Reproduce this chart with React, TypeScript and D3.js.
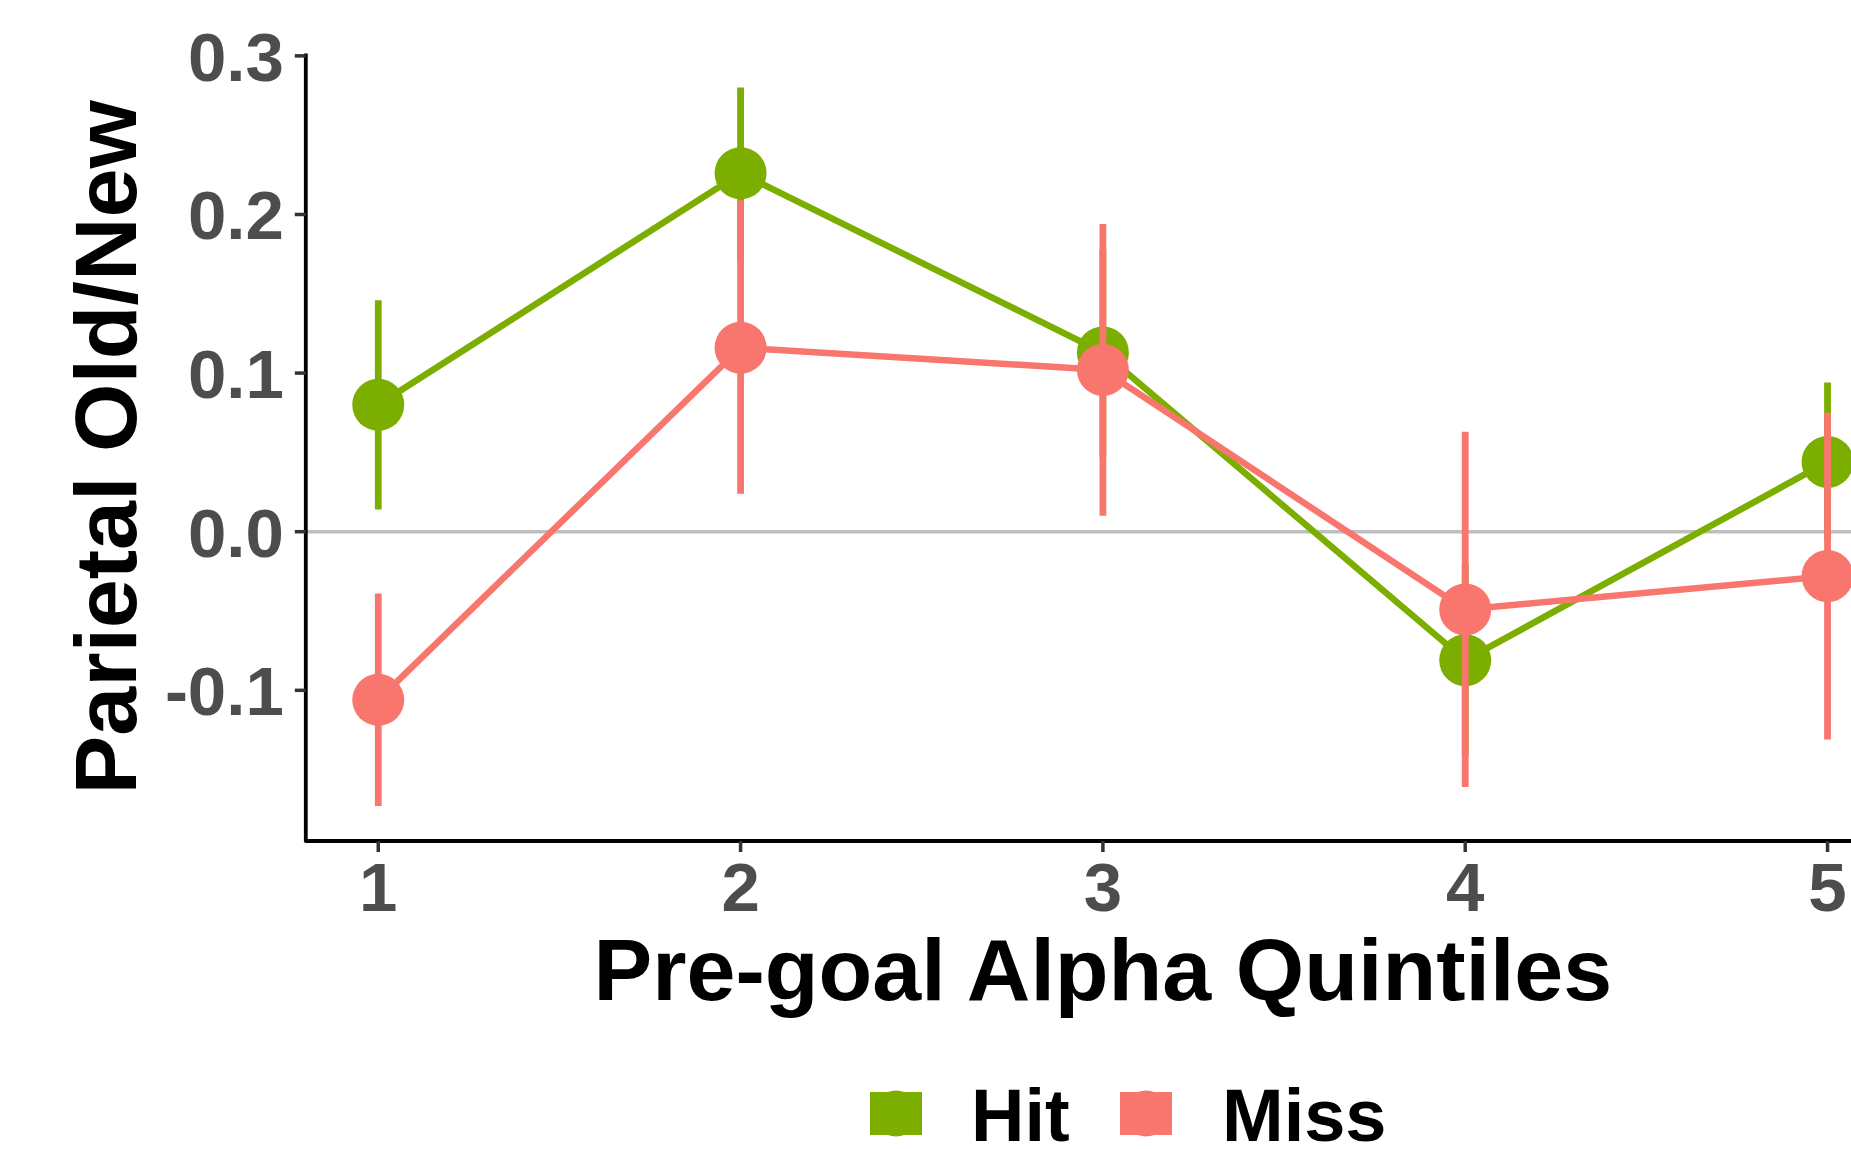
import React from "react";
import * as d3 from "d3";

const quintiles = [1, 2, 3, 4, 5];
const hitMean = [0.08, 0.226, 0.113, -0.081, 0.044];
const hitLower = [0.014, 0.172, 0.047, -0.141, -0.006];
const hitUpper = [0.146, 0.28, 0.178, -0.02, 0.094];
const missMean = [-0.106, 0.116, 0.102, -0.049, -0.028];
const missLower = [-0.173, 0.024, 0.01, -0.161, -0.131];
const missUpper = [-0.039, 0.209, 0.194, 0.063, 0.075];
const yTicks = [-0.1, 0, 0.1, 0.2, 0.3];
const yTickLabels = ["-0.1", "0.0", "0.1", "0.2", "0.3"];
const xTicks = [1, 2, 3, 4, 5];
const seriesNames = ["Hit", "Miss"];
const seriesColors = ["#7CAE00", "#F8766D"];

const W = 1851;
const H = 1149;
const FONT = "'Liberation Sans', Arial, Helvetica, sans-serif";

export default function App() {
  const left = 305.8;
  const right = 1900;
  const top = 53.5;
  const bottom = 841;
  const x = d3.scaleLinear().domain([0.8, 5.2]).range([left, right]);
  const y = d3.scaleLinear().domain([-0.195, 0.3015]).range([bottom, top]);

  const series = [
    { name: seriesNames[0], color: seriesColors[0], mean: hitMean, lo: hitLower, hi: hitUpper },
    { name: seriesNames[1], color: seriesColors[1], mean: missMean, lo: missLower, hi: missUpper },
  ];

  const line = d3
    .line<number>()
    .x((_, i) => x(quintiles[i]))
    .y((d) => y(d));

  const cx = (left + right) / 2;
  const cy = (top + bottom) / 2;

  return (
    <svg
      width={W}
      height={H}
      style={{ position: "absolute", left: 0, top: 0, background: "#fff" }}
      fontFamily={FONT}
      fontWeight="bold"
    >
      <rect x={0} y={0} width={W} height={H} fill="#fff" />
      {/* zero reference line */}
      <line x1={left} x2={right} y1={y(0)} y2={y(0)} stroke="#BEBEBE" strokeWidth={3.5} />

      {/* connecting lines */}
      {series.map((s) => (
        <path key={"l" + s.name} d={line(s.mean) || ""} fill="none" stroke={s.color} strokeWidth={6.5} />
      ))}

      {/* error bars and points */}
      {series.map((s) => (
        <g key={"p" + s.name}>
          {quintiles.map((q, i) => (
            <line
              key={"e" + i}
              x1={x(q)}
              x2={x(q)}
              y1={y(s.lo[i])}
              y2={y(s.hi[i])}
              stroke={s.color}
              strokeWidth={6.8}
            />
          ))}
          {quintiles.map((q, i) => (
            <circle key={"c" + i} cx={x(q)} cy={y(s.mean[i])} r={26} fill={s.color} />
          ))}
        </g>
      ))}

      {/* axes */}
      <path
        d={`M${left},${top} L${left},${bottom} L${right},${bottom}`}
        fill="none"
        stroke="#000"
        strokeWidth={3.8}
        strokeLinejoin="round"
      />
      {yTicks.map((t, i) => (
        <g key={"yt" + t}>
          <line x1={left - 11} x2={left} y1={y(t)} y2={y(t)} stroke="#333" strokeWidth={3.5} />
          <text
            x={left - 22}
            y={y(t)}
            dy="0.36em"
            textAnchor="end"
            fontSize={69}
            fill="#4D4D4D"
          >
            {yTickLabels[i]}
          </text>
        </g>
      ))}
      {xTicks.map((t) => (
        <g key={"xt" + t}>
          <line x1={x(t)} x2={x(t)} y1={bottom} y2={bottom + 11} stroke="#333" strokeWidth={3.5} />
          <text x={x(t)} y={911} textAnchor="middle" fontSize={69} fill="#4D4D4D">
            {String(t)}
          </text>
        </g>
      ))}

      {/* axis titles */}
      <text x={cx} y={1000} textAnchor="middle" fontSize={88} fill="#000">
        Pre-goal Alpha Quintiles
      </text>
      <text
        transform={`translate(136,${cy}) rotate(-90)`}
        textAnchor="middle"
        fontSize={88}
        fill="#000"
      >
        Parietal Old/New
      </text>

      {/* legend */}
      {series.map((s, i) => {
        const kx = i === 0 ? 870 : 1120;
        const tx = i === 0 ? 971 : 1222;
        return (
          <g key={"lg" + s.name}>
            <rect x={kx} y={1092} width={52} height={43} fill={s.color} />
            <circle cx={kx + 26} cy={1113.5} r={23} fill={s.color} />
            <text x={tx} y={1141} fontSize={74} fill="#000">
              {s.name}
            </text>
          </g>
        );
      })}
    </svg>
  );
}
